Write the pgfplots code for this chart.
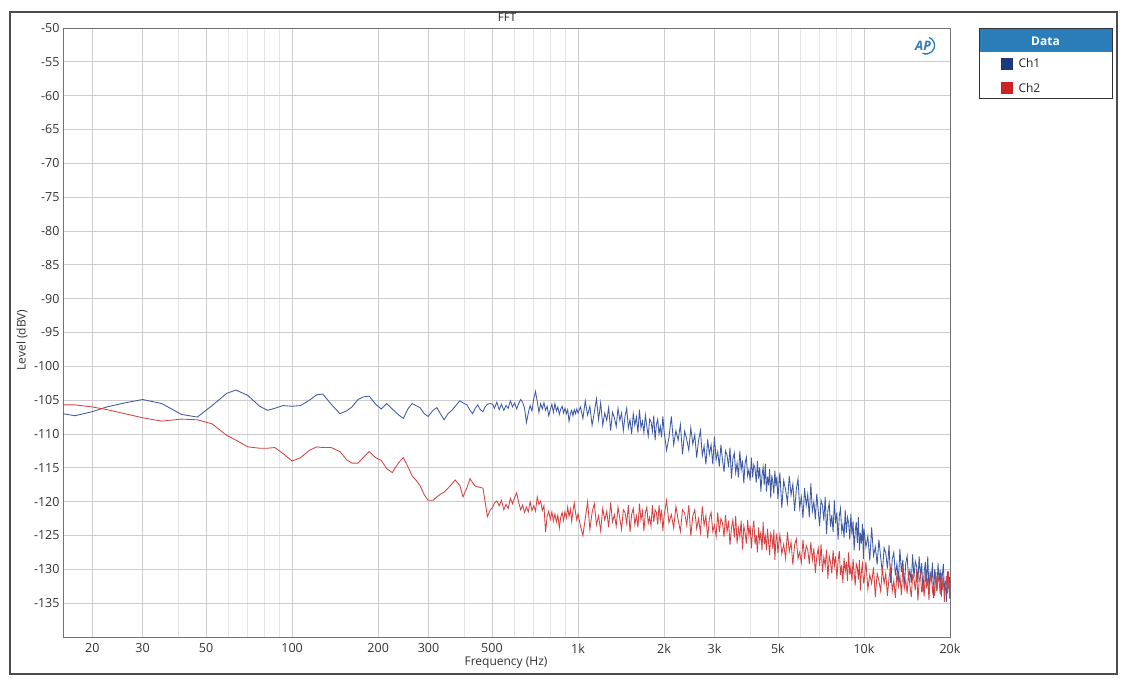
\documentclass[border=0pt]{standalone}
\usepackage{fontspec}
\setmainfont{Open Sans}
\usepackage{pgfplots}
\usepackage{pgfplotstable}
\pgfplotsset{compat=1.18}

\definecolor{chone}{RGB}{62,90,162}
\definecolor{chtwo}{RGB}{212,66,66}
\definecolor{legblue}{RGB}{43,125,186}
\definecolor{sqone}{RGB}{28,56,128}
\definecolor{sqtwo}{RGB}{204,36,36}
\definecolor{majgrid}{RGB}{205,205,205}
\definecolor{mingrid}{RGB}{228,228,228}

% f [Hz], Ch1 [dBV], Ch2 [dBV]
\pgfplotstableread{
f a b
15.8 -107.0 -105.7
17.4 -107.3 -105.7
20 -106.7 -106.0
22.5 -106.0 -106.4
26 -105.4 -107.0
30 -104.9 -107.6
35 -105.5 -108.1
41 -107.1 -107.8
46.6 -107.5 -107.9
52.5 -105.8 -108.5
59 -104.0 -110.2
63.6 -103.5 -110.9
70 -104.3 -111.9
77 -105.9 -112.1
82 -106.5 -112.1
87 -106.2 -112.0
93 -105.8 -112.9
100 -105.9 -114.0
107 -105.8 -113.5
115 -105.0 -112.4
122 -104.2 -111.9
128 -104.1 -112.0
137 -105.6 -112.0
147 -107.0 -112.6
155 -106.6 -113.8
162 -106.0 -114.3
170 -104.9 -114.3
178 -104.5 -113.4
186 -104.4 -112.6
196 -105.6 -113.5
205 -106.3 -113.9
214 -105.5 -115.1
224 -106.3 -115.7
236 -107.2 -114.2
245 -107.7 -113.5
254 -106.3 -114.8
263 -105.5 -116.2
271 -105.8 -116.8
280 -106.1 -117.6
290 -107.0 -119.0
299 -107.4 -119.8
311 -106.5 -119.8
321 -106.1 -119.3
330 -107.0 -118.9
340 -107.9 -118.6
351 -107.0 -118.0
362 -106.5 -117.4
372 -105.9 -116.8
386 -105.1 -117.6
396 -105.4 -119.3
409 -105.7 -117.9
419 -106.5 -116.6
428 -107.0 -117.2
437 -106.2 -117.7
446 -105.7 -117.8
455 -106.4 -117.9
465 -106.7 -118.0
473 -106.0 -120.0
482 -105.6 -122.2
492 -105.5 -121.3
503 -105.6 -120.8
510 -106.2 -120.2
520 -105.3 -119.9
530 -106.4 -120.6
540 -105.6 -119.8
550 -106.5 -121.2
560 -105.8 -120.4
570 -106.2 -121.0
580 -105.1 -119.5
590 -106.0 -120.3
600 -105.4 -119.4
610 -106.3 -118.7
620 -105.5 -120.1
630 -104.9 -121.2
640 -105.3 -120.5
650 -106.2 -121.6
660 -108.3 -120.8
670 -106.9 -121.5
680 -105.8 -120.0
690 -106.6 -121.3
700 -104.8 -120.6
710 -103.7 -121.4
720 -105.2 -119.3
730 -106.8 -120.4
740 -105.5 -119.9
750 -106.3 -121.3
760 -105.4 -120.6
770 -106.5 -124.5
780 -105.9 -122.1
790 -107.3 -121.4
800 -106.4 -122.6
810 -105.6 -121.5
820 -106.8 -122.9
830 -105.5 -121.8
840 -106.6 -123.0
850 -106.0 -122.0
860 -107.1 -123.9
870 -106.3 -122.3
880 -105.9 -121.6
890 -106.9 -122.8
900 -106.2 -121.5
910 -107.0 -122.4
920 -106.4 -120.8
930 -108.1 -122.2
940 -107.0 -121.1
950 -106.5 -122.9
960 -107.3 -121.4
970 -106.4 -120.2
980 -107.0 -121.6
990 -106.3 -122.7
1000 -106.9 -121.8
1020 -106.0 -123.6
1040 -107.7 -125.0
1060 -105.1 -122.5
1080 -107.2 -120.0
1100 -105.9 -124.1
1120 -108.7 -121.6
1140 -106.8 -120.3
1160 -104.8 -123.4
1180 -107.9 -122.1
1200 -105.4 -124.3
1220 -108.7 -121.0
1240 -106.9 -122.7
1260 -108.0 -121.4
1280 -106.1 -123.8
1300 -109.5 -120.1
1320 -106.8 -123.0
1340 -107.6 -121.9
1360 -108.9 -123.6
1380 -106.2 -120.8
1400 -108.0 -122.5
1420 -106.9 -124.1
1440 -109.5 -121.2
1460 -107.4 -121.6
1480 -106.2 -123.2
1500 -109.1 -120.5
1520 -107.9 -124.5
1540 -110.0 -121.9
1560 -107.0 -121.0
1580 -108.7 -123.4
1600 -107.5 -122.1
1620 -109.8 -123.8
1640 -106.4 -120.3
1660 -109.1 -122.7
1680 -108.1 -121.4
1700 -109.8 -124.3
1720 -107.2 -121.6
1740 -108.9 -120.8
1760 -110.3 -123.2
1780 -107.8 -122.3
1800 -108.2 -123.6
1820 -109.6 -120.5
1840 -107.3 -123.0
1860 -110.9 -121.2
1880 -108.6 -121.6
1900 -107.8 -123.4
1920 -110.0 -120.5
1940 -108.9 -122.7
1960 -110.5 -121.2
1980 -107.4 -124.3
2000 -109.6 -122.1
2040 -112.4 -119.8
2080 -110.5 -123.1
2120 -107.4 -121.9
2160 -111.6 -123.9
2200 -109.5 -120.7
2240 -110.9 -122.7
2280 -108.6 -124.4
2320 -113.0 -121.2
2360 -109.6 -121.7
2400 -110.8 -123.5
2440 -112.4 -120.5
2480 -109.1 -125.1
2520 -111.5 -122.1
2560 -110.1 -121.2
2600 -113.5 -124.0
2640 -110.9 -122.5
2680 -109.5 -124.6
2720 -113.2 -120.7
2760 -111.8 -123.5
2800 -114.5 -122.1
2840 -110.8 -125.4
2880 -113.0 -122.5
2920 -111.6 -121.6
2960 -114.5 -124.4
3000 -110.4 -123.5
3040 -113.8 -125.1
3080 -112.6 -121.6
3120 -114.8 -124.5
3160 -111.6 -122.5
3200 -113.8 -123.1
3240 -115.6 -125.2
3280 -112.5 -122.0
3320 -113.1 -124.5
3360 -114.9 -122.8
3400 -112.0 -126.4
3440 -116.6 -123.9
3480 -113.7 -122.7
3520 -112.8 -125.3
3560 -115.7 -122.1
3600 -114.3 -126.2
3640 -116.4 -123.9
3680 -112.5 -125.2
3720 -115.3 -122.8
3760 -113.9 -127.1
3800 -117.3 -123.6
3840 -114.3 -124.6
3880 -113.4 -126.2
3920 -116.2 -122.7
3960 -115.3 -125.0
4000 -116.9 -123.6
4040 -113.5 -126.9
4080 -116.4 -124.2
4120 -114.5 -122.8
4160 -115.1 -126.3
4200 -117.2 -124.9
4240 -114.0 -127.5
4280 -116.6 -123.8
4320 -114.9 -125.8
4360 -118.5 -124.4
4400 -116.1 -127.2
4440 -114.9 -123.0
4480 -117.5 -126.3
4520 -114.4 -125.1
4560 -118.5 -127.2
4600 -116.3 -124.0
4640 -117.6 -126.1
4680 -115.2 -127.9
4720 -119.5 -124.7
4760 -116.1 -125.2
4800 -117.2 -127.0
4840 -118.8 -124.1
4880 -115.4 -128.6
4920 -117.7 -125.7
4960 -116.3 -124.7
5000 -119.6 -127.6
5080 -115.7 -124.9
5160 -120.9 -127.7
5240 -116.9 -126.3
5320 -118.2 -128.4
5400 -120.2 -124.5
5480 -116.2 -127.4
5560 -119.0 -126.0
5640 -117.4 -129.3
5720 -121.4 -126.4
5800 -118.2 -125.5
5880 -116.6 -128.4
5960 -120.9 -127.5
6040 -119.3 -129.0
6120 -122.4 -125.6
6200 -118.0 -128.5
6280 -120.6 -126.5
6360 -118.9 -127.1
6440 -122.3 -129.2
6520 -117.3 -126.0
6600 -121.4 -128.6
6680 -120.0 -126.9
6760 -122.6 -130.5
6840 -118.8 -128.1
6920 -121.4 -126.9
7000 -123.6 -129.5
7080 -119.8 -126.3
7160 -120.5 -130.4
7240 -122.8 -128.2
7320 -119.3 -129.5
7400 -124.8 -127.1
7480 -121.3 -131.4
7560 -120.2 -128.0
7640 -123.7 -129.0
7720 -122.0 -130.6
7800 -124.5 -127.2
7880 -119.8 -129.5
7960 -123.2 -128.1
8040 -121.6 -131.4
8120 -125.6 -128.7
8200 -122.1 -127.3
8280 -121.0 -130.8
8360 -124.4 -129.4
8440 -123.4 -132.0
8520 -125.3 -128.3
8600 -121.2 -130.3
8680 -124.6 -128.9
8760 -122.3 -131.7
8840 -123.1 -127.5
8920 -125.6 -130.8
9000 -121.8 -129.6
9080 -124.9 -131.7
9160 -122.9 -128.5
9240 -127.2 -130.5
9320 -124.4 -132.4
9400 -123.0 -129.2
9480 -126.1 -129.7
9560 -122.3 -131.5
9640 -127.2 -128.6
9720 -124.6 -133.1
9800 -126.2 -130.2
9880 -123.3 -129.2
9960 -128.5 -132.0
10000 -124.0 -132.0
10160 -126.7 -128.9
10320 -125.1 -132.9
10480 -128.7 -130.8
10640 -123.8 -132.1
10800 -128.0 -129.7
10960 -126.7 -134.1
11120 -129.3 -130.6
11280 -125.6 -131.7
11440 -128.2 -133.2
11600 -130.5 -129.8
11760 -126.8 -132.1
11920 -127.6 -130.6
12080 -129.9 -133.9
12240 -126.4 -131.2
12400 -132.0 -129.7
12560 -128.5 -133.2
12720 -127.5 -131.7
12880 -130.9 -134.2
13040 -129.2 -130.5
13200 -131.7 -132.5
13360 -127.0 -131.0
13520 -130.4 -133.8
13680 -128.6 -129.6
13840 -132.6 -132.8
14000 -129.1 -131.6
14160 -128.0 -133.6
14320 -131.3 -130.4
14480 -130.1 -132.4
14640 -132.0 -134.1
14800 -127.8 -130.9
14960 -131.2 -131.4
15120 -128.8 -133.1
15280 -129.5 -130.1
15440 -131.9 -134.6
15600 -128.1 -131.7
15760 -131.1 -130.7
15920 -129.1 -133.4
16080 -133.3 -132.0
16240 -130.4 -134.0
16400 -128.9 -130.0
16560 -132.0 -132.8
16720 -128.1 -131.3
16880 -133.0 -134.5
17040 -130.3 -131.6
17200 -131.9 -130.6
17360 -129.0 -133.3
17520 -134.2 -132.4
17680 -130.0 -133.9
17840 -131.3 -130.4
18000 -133.2 -133.2
18160 -129.1 -131.2
18320 -131.9 -131.7
18480 -130.1 -133.7
18640 -134.1 -130.5
18800 -130.9 -133.0
18960 -129.2 -131.3
19120 -133.5 -134.8
19280 -131.7 -132.3
19440 -134.8 -131.0
19600 -130.3 -133.6
19760 -132.8 -130.3
19920 -131.1 -134.3
20000 -134.4 -132.1
}\fftdata

\begin{document}
\begin{tikzpicture}[x=1pt,y=1pt]
\useasboundingbox (0,0) rectangle (1132,686);
\fill[white] (0,0) rectangle (1132,686);
\draw[black!70, line width=1.2pt] (10,12) rectangle (1117,674);

\begin{axis}[
    at={(63pt,49pt)}, anchor=south west,
    width=887pt, height=609pt, scale only axis,
    xmode=log, log basis x=10, xmin=15.8, xmax=20000,
    ymin=-140, ymax=-50,
    xtick={20,30,50,100,200,300,500,1000,2000,3000,5000,10000,20000},
    xticklabels={20,30,50,100,200,300,500,1k,2k,3k,5k,10k,20k},
    minor x tick num=0,
    minor xtick={40,60,70,80,90,400,600,700,800,900,4000,6000,7000,8000,9000},
    ytick={-135,-130,...,-50},
    yticklabels={-135,-130,-125,-120,-115,-110,-105,-100,-95,-90,-85,-80,-75,-70,-65,-60,-55,-50},
    major tick length=0pt, minor tick length=0pt,
    grid=both,
    major grid style={majgrid, line width=0.7pt},
    minor grid style={mingrid, line width=0.7pt},
    axis line style={black!55, line width=0.9pt},
    tick label style={font=\fontsize{12.5}{14}\selectfont, text=black!80},
    xticklabel style={yshift=-3pt},
  ]
  \addplot[chone, line width=0.85pt] table[x=f, y=a] {\fftdata};
  \addplot[chtwo, line width=0.85pt] table[x=f, y=b] {\fftdata};
\end{axis}

% titles
\node[font=\fontsize{11.5}{13}\selectfont, text=black!85] at (507,669) {FFT};
\node[font=\fontsize{12}{14}\selectfont, text=black!80] at (506,23) {Frequency (Hz)};
\node[rotate=90, font=\fontsize{12}{14}\selectfont, text=black!80] at (22,346) {Level (dBV)};

% AP mark
\node[text=legblue, font=\bfseries\itshape\fontsize{13}{13}\selectfont] at (923,640) {AP};
\draw[legblue, line width=1.3pt] (929,648.5) arc[start angle=70, end angle=-115, radius=8.5];

% legend
\fill[white] (979,657) rectangle (1112,587);
\fill[legblue] (979,657) rectangle (1112,634);
\draw[black!80, line width=1pt] (979,657) rectangle (1112,587);
\node[text=white, font=\bfseries\fontsize{12}{14}\selectfont] at (1045.5,644.5) {Data};
\fill[sqone] (1001,628) rectangle (1013,616);
\node[anchor=west, font=\fontsize{12}{14}\selectfont, text=black!85] at (1015,622.5) {Ch1};
\fill[sqtwo] (1001,603.5) rectangle (1013,591.5);
\node[anchor=west, font=\fontsize{12}{14}\selectfont, text=black!85] at (1015,598) {Ch2};
\end{tikzpicture}
\end{document}
